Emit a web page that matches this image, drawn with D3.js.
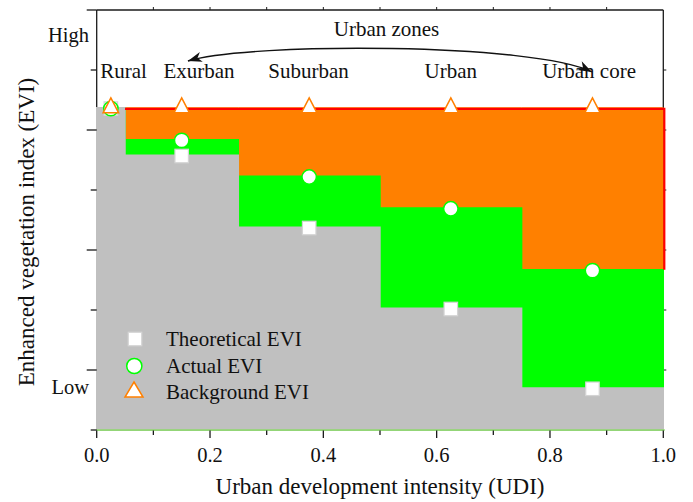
<!DOCTYPE html>
<html>
<head>
<meta charset="utf-8">
<script src="https://cdn.jsdelivr.net/npm/d3@7"></script>
<style>
  html, body { margin: 0; padding: 0; background: #fff; }
  svg text { font-family: "Liberation Serif", "Times New Roman", serif; fill: #111; }
</style>
</head>
<body>
<svg id="chart" width="693" height="502"></svg>
<script>
// Zones along the urban development intensity (UDI) axis
const zoneBounds = [0, 0.05, 0.25, 0.5, 0.75, 1.0];
const zoneNames = ["Rural", "Exurban", "Suburban", "Urban", "Urban core"];
const zoneCenters = [0.025, 0.15, 0.375, 0.625, 0.875];

// EVI levels per zone
const theoreticalEVI = [0.537, 0.458, 0.338, 0.203, 0.070];
const actualEVI      = [0.537, 0.484, 0.423, 0.370, 0.267];
const backgroundEVI  = [0.537, 0.537, 0.537, 0.537, 0.537];

// Axis ticks
const xTicksMajor = [0, 0.2, 0.4, 0.6, 0.8, 1.0];
const xTickLabels = ["0.0", "0.2", "0.4", "0.6", "0.8", "1.0"];
const xTicksMinor = [0.1, 0.3, 0.5, 0.7, 0.9];
const yTicksMajor = [0.1, 0.3, 0.5, 0.7];
const yTicksMinor = [0.0, 0.2, 0.4, 0.6];
const yLevelLabels = ["High", "Low"];
const yLevelValues = [0.659, 0.072];

const legendItems = ["Theoretical EVI", "Actual EVI", "Background EVI"];

const svg = d3.select("#chart");
const x = d3.scaleLinear().domain([0, 1]).range([96.7, 663.3]);
const y = d3.scaleLinear().domain([0, 0.7]).range([430, 10]);

const COL = {
  gray: "#c0c0c0", green: "#00ff00", orange: "#ff8000", red: "#ff0000",
  axis: "#1a1a1a", base: "#8fd86c", squareStroke: "#d4d4d4"
};

// ---- frame (top and right lines, left axis) ----
const frame = svg.append("g");
frame.append("line").attr("x1", x(0)).attr("x2", x(1)).attr("y1", y(0.7)).attr("y2", y(0.7))
  .attr("stroke", COL.axis).attr("stroke-width", 1.3);
frame.append("line").attr("x1", x(1)).attr("x2", x(1)).attr("y1", y(0.7)).attr("y2", y(0))
  .attr("stroke", COL.axis).attr("stroke-width", 1.3);
frame.append("line").attr("x1", x(0)).attr("x2", x(0)).attr("y1", y(0.7)).attr("y2", y(0))
  .attr("stroke", COL.axis).attr("stroke-width", 1.3);

// top ticks (every 0.1, short, outward)
d3.range(1, 10).forEach(i => {
  frame.append("line").attr("x1", x(i / 10)).attr("x2", x(i / 10))
    .attr("y1", y(0.7)).attr("y2", y(0.7) - 3).attr("stroke", COL.axis).attr("stroke-width", 1);
});
// right ticks
d3.range(1, 7).forEach(i => {
  frame.append("line").attr("x1", x(1)).attr("x2", x(1) + 3)
    .attr("y1", y(i / 10)).attr("y2", y(i / 10)).attr("stroke", COL.axis).attr("stroke-width", 1);
});

// ---- stepped areas ----
const stepPts = vals => zoneBounds.map((b, i) => ({ x: b, v: vals[Math.min(i, vals.length - 1)] }));
const area = d3.area()
  .x(d => x(d.x))
  .y0(y(0))
  .y1(d => y(d.v))
  .curve(d3.curveStepAfter);

svg.append("path").datum(stepPts(backgroundEVI)).attr("d", area)
  .attr("fill", COL.orange).attr("stroke", COL.orange).attr("stroke-width", 1);
svg.append("path").datum(stepPts(actualEVI)).attr("d", area)
  .attr("fill", COL.green).attr("stroke", COL.green).attr("stroke-width", 1.4);
svg.append("path").datum(stepPts(theoreticalEVI)).attr("d", area)
  .attr("fill", COL.gray).attr("stroke", COL.gray).attr("stroke-width", 1.4);

// red outline along the background level and its right edge
const last = actualEVI.length - 1;
svg.append("path")
  .attr("d", d3.line()([
    [x(zoneBounds[1]), y(backgroundEVI[1]) + 1],
    [x(1) + 1, y(backgroundEVI[1]) + 1],
    [x(1) + 1, y(actualEVI[last])]
  ]))
  .attr("fill", "none").attr("stroke", COL.red).attr("stroke-width", 2.2);

// baseline
svg.append("line").attr("x1", x(0) - 0.5).attr("x2", x(1) + 1.5).attr("y1", y(0)).attr("y2", y(0))
  .attr("stroke", COL.base).attr("stroke-width", 1.3);

// ---- bottom axis ticks and labels ----
const ax = svg.append("g");
xTicksMajor.forEach((t, i) => {
  ax.append("line").attr("x1", x(t)).attr("x2", x(t)).attr("y1", y(0) + 0.5).attr("y2", y(0) + 8)
    .attr("stroke", COL.axis).attr("stroke-width", 1.3);
  ax.append("text").attr("x", x(t)).attr("y", 461.7).attr("text-anchor", "middle")
    .attr("font-size", 20.5).text(xTickLabels[i]);
});
xTicksMinor.forEach(t => {
  ax.append("line").attr("x1", x(t)).attr("x2", x(t)).attr("y1", y(0) + 0.5).attr("y2", y(0) + 5)
    .attr("stroke", COL.axis).attr("stroke-width", 1.3);
});
// left ticks
yTicksMajor.forEach(t => {
  ax.append("line").attr("x1", x(0) - 10).attr("x2", x(0)).attr("y1", y(t)).attr("y2", y(t))
    .attr("stroke", COL.axis).attr("stroke-width", 1.3);
});
yTicksMinor.forEach(t => {
  ax.append("line").attr("x1", x(0) - 6).attr("x2", x(0)).attr("y1", y(t)).attr("y2", y(t))
    .attr("stroke", COL.axis).attr("stroke-width", 1.3);
});
yLevelLabels.forEach((lab, i) => {
  ax.append("text").attr("x", 89).attr("y", y(yLevelValues[i]) + 7)
    .attr("text-anchor", "end").attr("font-size", 20.5).text(lab);
});

// axis titles
svg.append("text").attr("x", (x(0) + x(1)) / 2).attr("y", 494).attr("text-anchor", "middle")
  .attr("font-size", 23).text("Urban development intensity (UDI)");
svg.append("text").attr("transform", `translate(34,232) rotate(-90)`).attr("text-anchor", "middle")
  .attr("font-size", 23).text("Enhanced vegetation index (EVI)");

// ---- markers ----
const markerSq = 13.5, circR = 7.2;
const triPath = (w, h) => `M0,${-h * 2 / 3}L${w / 2},${h / 3}L${-w / 2},${h / 3}Z`;

const marks = svg.append("g");
zoneCenters.forEach((c, i) => {
  marks.append("rect")
    .attr("x", x(c) - markerSq / 2).attr("y", y(theoreticalEVI[i]) - markerSq / 2 + 0.8)
    .attr("width", markerSq).attr("height", markerSq)
    .attr("fill", "#fff").attr("stroke", COL.squareStroke).attr("stroke-width", 1.2);
});
zoneCenters.forEach((c, i) => {
  marks.append("circle").attr("cx", x(c)).attr("cy", y(actualEVI[i]) + 0.8).attr("r", circR)
    .attr("fill", "#fff").attr("stroke", COL.green).attr("stroke-width", 1.5);
});
zoneCenters.forEach((c, i) => {
  marks.append("path").attr("d", triPath(15.5, 15))
    .attr("transform", `translate(${x(c)},${y(backgroundEVI[i])})`)
    .attr("fill", "#fff").attr("stroke", COL.orange).attr("stroke-width", 1.5)
    .attr("stroke-linejoin", "miter");
});

// ---- zone labels and arrow ----
const zoneLabelX = [0.0473, 0.1805, 0.374, 0.625, 0.869];
zoneNames.forEach((n, i) => {
  svg.append("text").attr("x", x(zoneLabelX[i])).attr("y", 78.3).attr("text-anchor", "middle")
    .attr("font-size", 21).text(n);
});
svg.append("text").attr("x", 386.5).attr("y", 36).attr("text-anchor", "middle")
  .attr("font-size", 21).text("Urban zones");

const p0 = [x(0.161), 61], c1 = [250, 42], c2 = [535, 43], p3 = [x(0.874), 72];
const arrowPath = d3.path();
arrowPath.moveTo(p0[0], p0[1]);
arrowPath.bezierCurveTo(c1[0], c1[1], c2[0], c2[1], p3[0], p3[1]);
svg.append("path").attr("d", arrowPath.toString())
  .attr("fill", "none").attr("stroke", "#111").attr("stroke-width", 1.4);

function arrowHead(tip, from) {
  const a = Math.atan2(tip[1] - from[1], tip[0] - from[0]);
  const L = 14, W = 5, N = 10;
  const pt = (d, s) => [tip[0] - d * Math.cos(a) - s * Math.sin(a), tip[1] - d * Math.sin(a) + s * Math.cos(a)];
  const pts = [tip, pt(L, W), pt(N, 0), pt(L, -W)];
  svg.append("path").attr("d", d3.line()(pts) + "Z").attr("fill", "#111");
}
arrowHead(p0, c1);
arrowHead(p3, c2);

// ---- legend ----
const lg = svg.append("g");
const lgRows = [339, 366, 392];
lg.append("rect").attr("x", 135 - markerSq / 2).attr("y", lgRows[0] - markerSq / 2)
  .attr("width", markerSq).attr("height", markerSq)
  .attr("fill", "#fff").attr("stroke", COL.squareStroke).attr("stroke-width", 1.2);
lg.append("circle").attr("cx", 134.3).attr("cy", lgRows[1]).attr("r", 7.6)
  .attr("fill", "#fff").attr("stroke", COL.green).attr("stroke-width", 1.5);
lg.append("path").attr("d", triPath(18, 15)).attr("transform", `translate(134,${lgRows[2]})`)
  .attr("fill", "#fff").attr("stroke", COL.orange).attr("stroke-width", 1.5);
legendItems.forEach((t, i) => {
  lg.append("text").attr("x", 166).attr("y", [345.7, 372.7, 399][i]).attr("font-size", 21).text(t);
});
</script>
</body>
</html>
